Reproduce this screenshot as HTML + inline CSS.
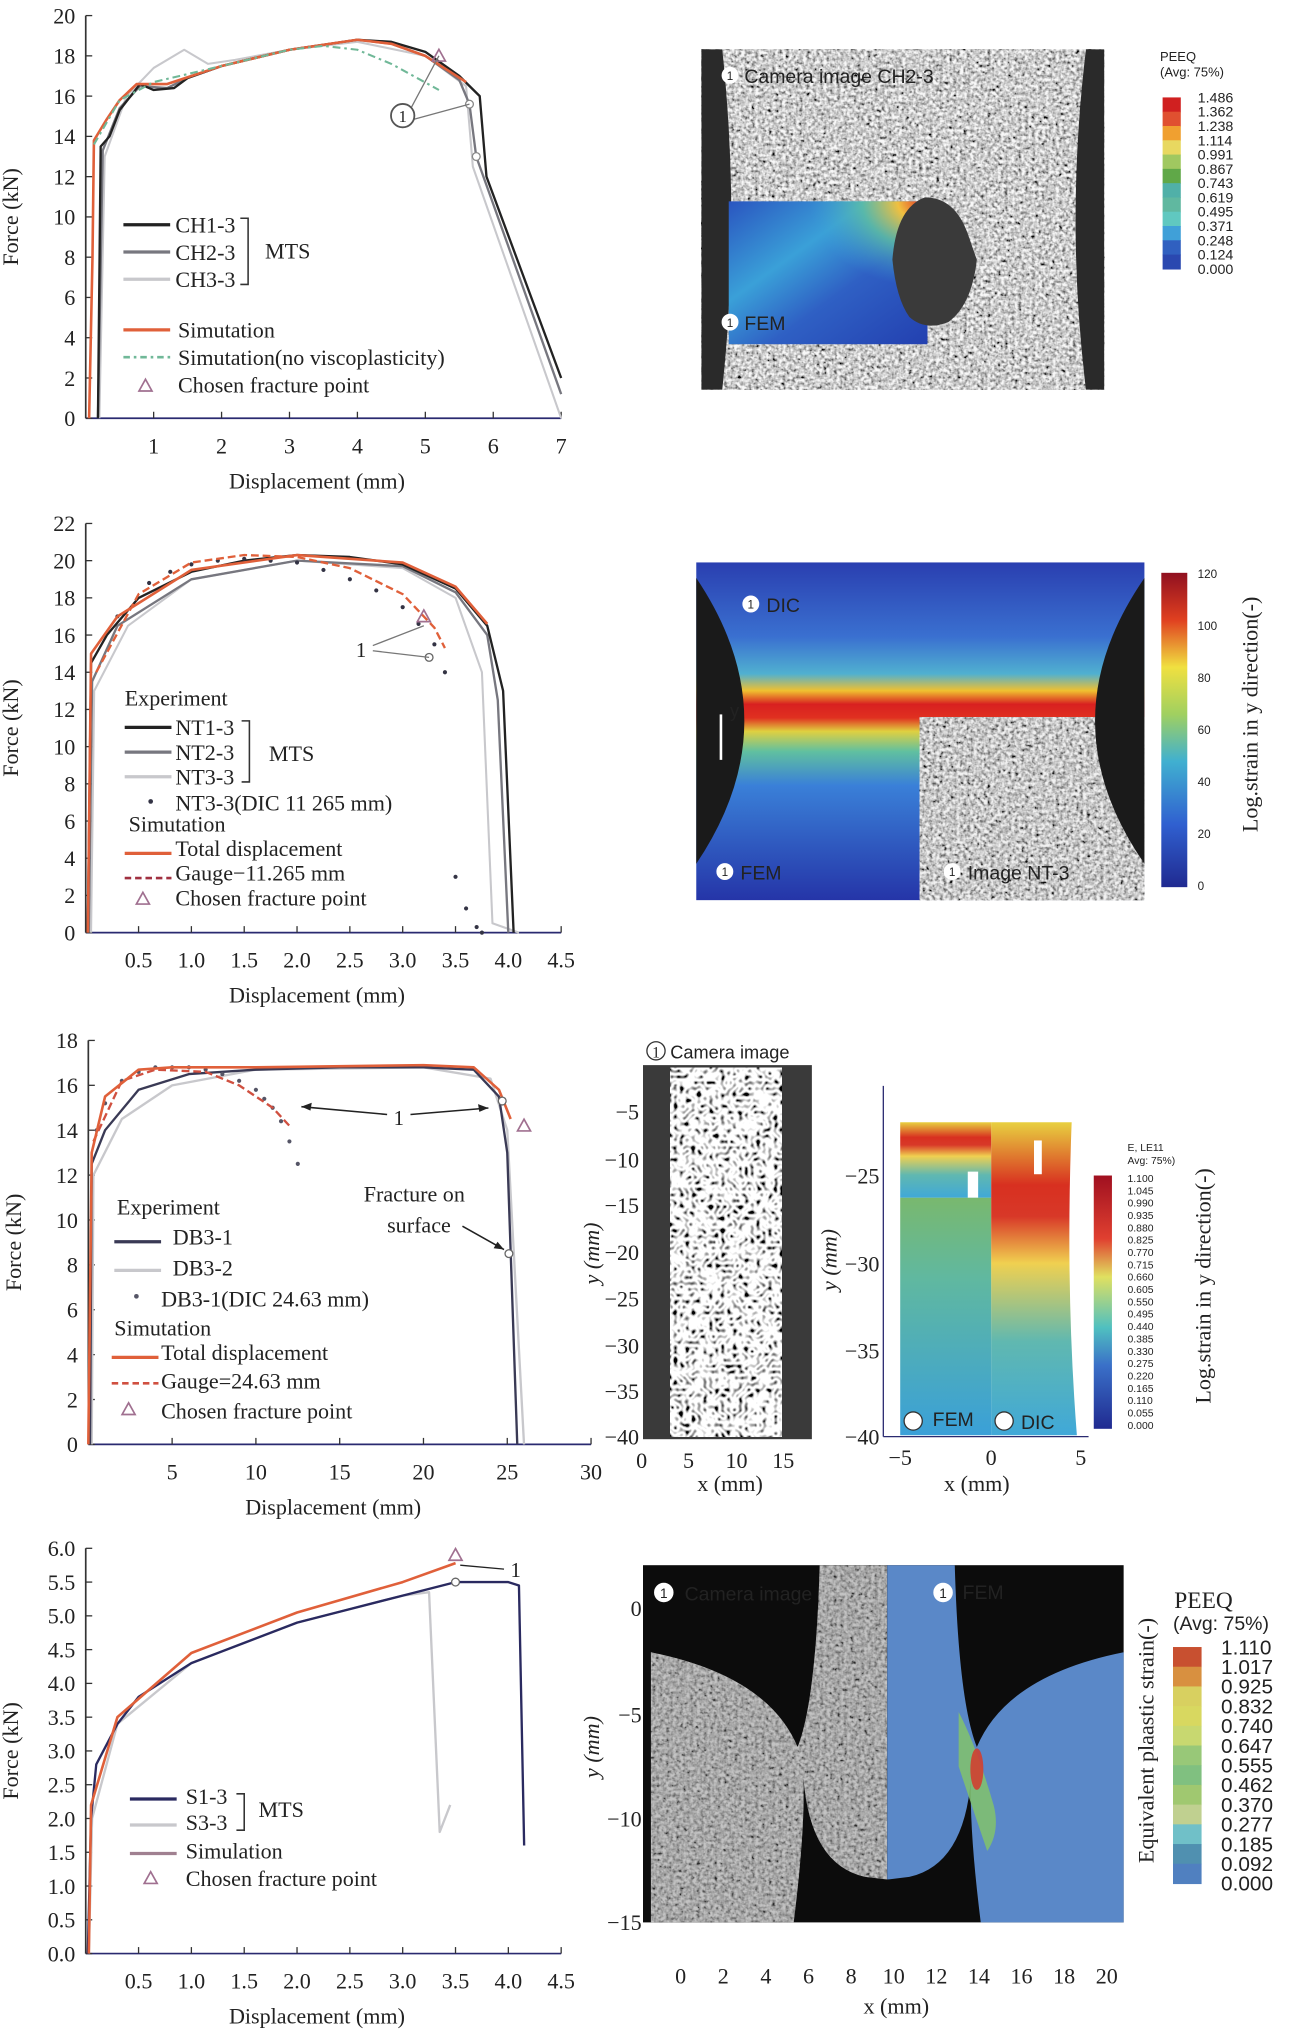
<!DOCTYPE html>
<html><head><meta charset="utf-8">
<style>
html,body{margin:0;padding:0;background:#fff;}
svg{display:block;}
text{font-family:"Liberation Serif",serif;fill:#222;}
.sans{font-family:"Liberation Sans",sans-serif;}
</style></head>
<body>
<svg id="fig" width="1299" height="2038" viewBox="0 0 1000 1569" preserveAspectRatio="none" xmlns="http://www.w3.org/2000/svg">
<defs id="defs">
<filter id="speck" x="0" y="0" width="100%" height="100%">
<feTurbulence type="fractalNoise" baseFrequency="0.38" numOctaves="2" seed="3"/>
<feColorMatrix type="matrix" values="0.33 0.33 0.33 0 0  0.33 0.33 0.33 0 0  0.33 0.33 0.33 0 0  0 0 0 0 1"/>
<feComponentTransfer><feFuncR type="linear" slope="3.2" intercept="-0.95"/><feFuncG type="linear" slope="3.2" intercept="-0.95"/><feFuncB type="linear" slope="3.2" intercept="-0.95"/></feComponentTransfer>
</filter>
<filter id="worm" x="0" y="0" width="100%" height="100%">
<feTurbulence type="turbulence" baseFrequency="0.22" numOctaves="1" seed="7"/>
<feColorMatrix type="matrix" values="0 0 0 -3 1.4  0 0 0 -3 1.4  0 0 0 -3 1.4  0 0 0 0 1"/>
</filter>
<linearGradient id="fem1" x1="0" y1="0" x2="1" y2="1">
<stop offset="0" stop-color="#2a55c0"/><stop offset="0.35" stop-color="#3aa0d8"/><stop offset="0.6" stop-color="#2f60c4"/><stop offset="1" stop-color="#2340b0"/></linearGradient>
<radialGradient id="hot1" cx="1" cy="0" r="0.6"><stop offset="0" stop-color="#e02020"/><stop offset="0.25" stop-color="#f0c040"/><stop offset="0.55" stop-color="#60c0a0" stop-opacity="0.8"/><stop offset="1" stop-color="#3aa0d8" stop-opacity="0"/></radialGradient>
<linearGradient id="band2" x1="0" y1="0" x2="0" y2="1">
<stop offset="0" stop-color="#2a3fb0"/><stop offset="0.22" stop-color="#3a70d0"/><stop offset="0.33" stop-color="#50b0d0"/><stop offset="0.38" stop-color="#f0c030"/><stop offset="0.42" stop-color="#d82020"/><stop offset="0.46" stop-color="#e03020"/><stop offset="0.5" stop-color="#e0d040"/><stop offset="0.56" stop-color="#60c0a0"/><stop offset="0.66" stop-color="#3a80d8"/><stop offset="1" stop-color="#2535a8"/></linearGradient>
<linearGradient id="cb2" x1="0" y1="1" x2="0" y2="0">
<stop offset="0" stop-color="#202a90"/><stop offset="0.2" stop-color="#3060d0"/><stop offset="0.4" stop-color="#40b0d0"/><stop offset="0.55" stop-color="#a0d060"/><stop offset="0.7" stop-color="#f0e040"/><stop offset="0.85" stop-color="#e04020"/><stop offset="1" stop-color="#901020"/></linearGradient>
<linearGradient id="fem3" x1="0" y1="0" x2="0" y2="1">
<stop offset="0" stop-color="#e8d040"/><stop offset="0.2" stop-color="#d83020"/><stop offset="0.3" stop-color="#d83828"/><stop offset="0.45" stop-color="#f0d050"/><stop offset="0.7" stop-color="#60b8b0"/><stop offset="1" stop-color="#40a8d8"/></linearGradient>
<linearGradient id="fem3l" x1="0" y1="0" x2="0" y2="1">
<stop offset="0" stop-color="#90b840"/><stop offset="0.5" stop-color="#60b8a0"/><stop offset="1" stop-color="#3aa0d8"/></linearGradient>
<linearGradient id="cb3" x1="0" y1="1" x2="0" y2="0">
<stop offset="0" stop-color="#202a90"/><stop offset="0.25" stop-color="#3a70c8"/><stop offset="0.4" stop-color="#50c0c0"/><stop offset="0.6" stop-color="#e0e060"/><stop offset="0.75" stop-color="#e04030"/><stop offset="1" stop-color="#a01020"/></linearGradient>
<clipPath id="camclip"><path d="M683,1205H631Q628,1310 614,1345Q591,1290 501,1272V1480H611Q621,1400 618,1360Q621,1435 666,1445L683,1447Z"/></clipPath>
</defs>
<g id="root"></g>
</svg>
<script>
const NS='http://www.w3.org/2000/svg';
const root=document.getElementById('root');
function mk(tag,name,attrs,parent){
  const el=document.createElementNS(NS,tag);
  
  
  for(const k in attrs) el.setAttribute(k,attrs[k]);
  (parent||root).appendChild(el);
  return el;
}
function txt(name,s,x,y,size,extra,parent){
  const t=mk('text',name,Object.assign({x:x,y:y,'font-size':size},extra||{}),parent);
  t.textContent=s; return t;
}
function badge(x,y,r,parent,dark){
  mk('circle','marker-1',{cx:x,cy:y,r:r,fill:'#fff',stroke:dark?'#333':'#fff'},parent);
  txt('marker-1-text','1',x,y+r*0.6,r*1.5,{'text-anchor':'middle',class:'sans',fill:'#222'},parent);
}

/* ---------- DATA: chart 1 (CH) ---------- */
const ch1Ticks=[1,2,3,4,5,6,7];
const ch1YTicks=[0,2,4,6,8,10,12,14,16,18,20];
const ch1_CH1=[[0.18,0],[0.22,13.5],[0.35,14],[0.5,15.3],[0.8,16.6],[1,16.3],[1.3,16.4],[1.5,16.9],[2,17.5],[3,18.3],[4,18.8],[4.5,18.7],[5,18.2],[5.5,17],[5.8,16],[5.9,12],[7,2]];
const ch1_CH2=[[0.18,0],[0.25,13.3],[0.5,15.4],[0.8,16.5],[1.2,16.4],[1.5,16.9],[2,17.5],[3,18.3],[4,18.8],[4.5,18.6],[5,18],[5.5,16.8],[5.65,15.6],[5.75,13],[7,1.2]];
const ch1_CH3=[[0.2,0],[0.28,13],[0.6,16],[1,17.4],[1.45,18.3],[1.8,17.6],[2.2,17.8],[3,18.3],[4,18.7],[5,18],[5.6,16.5],[5.7,12.5],[7,0]];
const ch1_Sim=[[0.05,0],[0.1,8],[0.12,13.8],[0.3,14.8],[0.5,15.8],[0.75,16.6],[1.2,16.6],[2,17.5],[3,18.3],[4,18.8],[4.5,18.6],[5,18],[5.6,16.7]];
const ch1_NoVisc=[[0.12,13.6],[0.5,15.8],[1,16.7],[2,17.5],[3,18.3],[3.5,18.5],[4,18.3],[4.5,17.6],[5.2,16.3]];
const ch1_Frac=[[5.2,18.0]];

/* ---------- DATA: chart 2 (NT) ---------- */
const ch2Ticks=[0.5,1.0,1.5,2.0,2.5,3.0,3.5,4.0,4.5];
const ch2YTicks=[0,2,4,6,8,10,12,14,16,18,20,22];
const ch2_NT1=[[0.02,0],[0.05,14.5],[0.2,16],[0.5,18],[1,19.4],[1.5,20],[2,20.3],[2.5,20.2],[3,19.8],[3.5,18.5],[3.8,16.5],[3.95,13],[4.05,0]];
const ch2_NT2=[[0.03,0],[0.06,13.5],[0.3,16.5],[1,19],[2,20],[3,19.7],[3.5,18.3],[3.8,16],[3.9,12.5],[4,0]];
const ch2_NT3=[[0.05,0],[0.08,13],[0.4,16.5],[1,19],[2,20],[3,19.6],[3.5,18],[3.75,14],[3.85,0.5],[4.1,0]];
const ch2_DIC=[[0.3,17],[0.6,18.8],[0.8,19.4],[1,19.8],[1.25,20],[1.5,20.1],[1.75,20],[2,19.9],[2.25,19.5],[2.5,19],[2.75,18.4],[3,17.5],[3.15,16.6],[3.3,15.5],[3.4,14],[3.5,3],[3.6,1.3],[3.7,0.3],[3.75,0]];
const ch2_Total=[[0.02,0],[0.05,15],[0.3,17],[1,19.5],[2,20.3],[3,19.9],[3.5,18.6],[3.8,16.6]];
const ch2_Gauge=[[0.1,14],[0.5,18.2],[1,19.9],[1.5,20.3],[2,20.2],[2.5,19.6],[3,18.2],[3.3,16.4],[3.4,15.3]];
const ch2_Frac=[[3.2,17]];

/* ---------- DATA: chart 3 (DB) ---------- */
const ch3Ticks=[5,10,15,20,25,30];
const ch3YTicks=[0,2,4,6,8,10,12,14,16,18];
const ch3_DB1=[[0.1,0],[0.2,12.5],[1,14],[3,15.8],[6,16.5],[10,16.7],[15,16.8],[20,16.8],[23,16.7],[24.5,15.5],[25,13],[25.6,0]];
const ch3_DB2=[[0.2,0],[0.3,12],[2,14.5],[5,16],[10,16.7],[20,16.8],[24,16.3],[25,14],[26,0]];
const ch3_Total=[[0,0],[0.2,13],[1,15.5],[3,16.7],[5,16.8],[10,16.8],[20,16.9],[23,16.8],[24.5,15.8],[25.2,14.5]];
const ch3_DIC=[[0.5,14],[1,15.2],[2,16.2],[3,16.6],[4,16.8],[5,16.8],[6,16.8],[7,16.7],[8,16.5],[9,16.2],[10,15.8],[10.5,15.4],[11,15],[11.5,14.4],[12,13.5],[12.5,12.5]];
const ch3_Gauge=[[0.3,13.5],[2,16.2],[4,16.7],[7,16.6],[9,16],[11,15],[12,14.2]];
const ch3_Frac=[[26,14.2]];

/* ---------- DATA: chart 4 (S) ---------- */
const ch4Ticks=[0.5,1.0,1.5,2.0,2.5,3.0,3.5,4.0,4.5];
const ch4YTicks=[0,0.5,1.0,1.5,2.0,2.5,3.0,3.5,4.0,4.5,5.0,5.5,6.0];
const ch4_S1=[[0.02,0],[0.05,2],[0.1,2.8],[0.3,3.4],[0.5,3.8],[1,4.3],[1.5,4.6],[2,4.9],[2.5,5.1],[3,5.3],[3.5,5.5],[4,5.5],[4.1,5.45],[4.15,1.6]];
const ch4_S3=[[0.03,0],[0.06,2],[0.3,3.4],[1,4.3],[2,4.9],[3,5.3],[3.25,5.35],[3.35,1.8],[3.45,2.2]];
const ch4_Sim=[[0.03,0],[0.05,2.2],[0.3,3.5],[1,4.45],[2,5.05],[3,5.5],[3.5,5.78]];
const ch4_Frac=[[3.5,5.9]];

function axis(c){
  const g=mk('g',c.name,{});
  const sx=v=>c.x0+(v-c.xmin)/(c.xmax-c.xmin)*(c.x1-c.x0);
  const sy=v=>c.y0-(v-c.ymin)/(c.ymax-c.ymin)*(c.y0-c.y1);
  mk('line','y-axis',{x1:c.x0,y1:c.y0,x2:c.x0,y2:c.y1,stroke:'#333','stroke-width':1.3},g);
  mk('line','x-axis',{x1:c.x0,y1:c.y0,x2:c.x1,y2:c.y0,stroke:'#2a2a70','stroke-width':1.3},g);
  c.yt.forEach(v=>{
    mk('line','y-tick',{x1:c.x0,y1:sy(v),x2:c.x0+5,y2:sy(v),stroke:'#333'},g);
    txt('y-tick-label',c.yfmt?v.toFixed(1):String(v),c.x0-8,sy(v)+6,17,{'text-anchor':'end'},g);
  });
  c.xt.forEach(v=>{
    mk('line','x-tick',{x1:sx(v),y1:c.y0,x2:sx(v),y2:c.y0-5,stroke:'#333'},g);
    txt('x-tick-label',c.xfmt?v.toFixed(1):String(v),sx(v),c.y0+27,17,{'text-anchor':'middle'},g);
  });
  txt('x-axis-title','Displacement (mm)',(c.x0+c.x1)/2-5,c.y0+54,17,{'text-anchor':'middle'},g);
  txt('y-axis-title','Force (kN)',0,0,17,{'text-anchor':'middle',transform:`translate(${c.x0-52},${(c.y0+c.y1)/2}) rotate(-90)`},g);
  c.g=g;c.sx=sx;c.sy=sy;return c;
}
function line(c,name,pts,col,w,dash){
  const d=pts.map((p,i)=>(i?'L':'M')+c.sx(p[0]).toFixed(1)+','+c.sy(p[1]).toFixed(1)).join('');
  const a={d:d,fill:'none',stroke:col,'stroke-width':w,'stroke-linejoin':'round'};
  if(dash)a['stroke-dasharray']=dash;
  mk('path',name,a,c.g);
}
function dots(c,name,pts,col){
  pts.forEach(p=>mk('circle',name,{cx:c.sx(p[0]),cy:c.sy(p[1]),r:1.6,fill:col},c.g));
}
function tri(c,name,pts){
  pts.forEach(p=>{const x=c.sx(p[0]),y=c.sy(p[1]);
    mk('path',name,{d:`M${x},${y-5}L${x+5},${y+4}L${x-5},${y+4}Z`,fill:'none',stroke:'#a07090','stroke-width':1.3},c.g);});
}
function legLine(g,name,x,y,col,w,dash){
  const a={x1:x,y1:y,x2:x+36,y2:y,stroke:col,'stroke-width':w};
  if(dash)a['stroke-dasharray']=dash;
  mk('line',name,a,g);
}
function legTri(g,x,y){mk('path','legend-triangle',{d:`M${x},${y-5}L${x+5},${y+4}L${x-5},${y+4}Z`,fill:'none',stroke:'#a07090','stroke-width':1.3},g);}
function bracket(g,x,y1,y2){mk('path','legend-bracket',{d:`M${x-6},${y1}H${x}V${y2}H${x-6}`,fill:'none',stroke:'#333','stroke-width':1.2},g);}

/* ===== Chart 1 ===== */
let c1=axis({name:'chart-ch',x0:66,x1:432,xmin:0,xmax:7,y0:322,y1:12,ymin:0,ymax:20,xt:ch1Ticks,yt:ch1YTicks});
line(c1,'series-ch3-3',ch1_CH3,'#c8c8cc',1.6);
line(c1,'series-ch2-3',ch1_CH2,'#77777f',1.8);
line(c1,'series-ch1-3',ch1_CH1,'#222',1.8);
line(c1,'series-simulation',ch1_Sim,'#e0603a',2);
line(c1,'series-no-viscoplasticity',ch1_NoVisc,'#70b898',1.6,'6 3 2 3');
tri(c1,'fracture-point',ch1_Frac);
mk('circle','marker',{cx:c1.sx(5.65),cy:c1.sy(15.6),r:3,fill:'#fff',stroke:'#888'},c1.g);
mk('circle','marker',{cx:c1.sx(5.75),cy:c1.sy(13),r:3,fill:'#fff',stroke:'#888'},c1.g);
mk('path','annotation-lines',{d:`M316,84L${c1.sx(5.2)},${c1.sy(18)}M318,92L${c1.sx(5.65)},${c1.sy(15.6)}`,stroke:'#777',fill:'none'},c1.g);
mk('circle','annotation-1',{cx:310,cy:89,r:9,fill:'#fff',stroke:'#555','stroke-width':1.4},c1.g);
txt('annotation-1-label','1',310,94,13,{'text-anchor':'middle'},c1.g);
let L=c1.g;
legLine(L,'legend-ch1-3',95,173,'#222',2.5);txt('legend-text','CH1-3',135,179,17,{},L);
legLine(L,'legend-ch2-3',95,194,'#77777f',2.5);txt('legend-text','CH2-3',135,200,17,{},L);
legLine(L,'legend-ch3-3',95,215,'#c8c8cc',2.5);txt('legend-text','CH3-3',135,221,17,{},L);
bracket(L,191,168,219);txt('legend-text','MTS',204,199,17,{},L);
legLine(L,'legend-simulation',95,254,'#e0603a',2.5);txt('legend-text','Simutation',137,260,17,{},L);
legLine(L,'legend-no-visc',95,275,'#70b898',2,'5 3 2 3');txt('legend-text','Simutation(no viscoplasticity)',137,281,17,{},L);
legTri(L,112,297);txt('legend-text','Chosen fracture point',137,302,17,{},L);

/* ===== Chart 2 ===== */
let c2=axis({name:'chart-nt',x0:66,x1:432,xmin:0,xmax:4.5,y0:718,y1:403,ymin:0,ymax:22,xt:ch2Ticks,yt:ch2YTicks,xfmt:1});
line(c2,'series-nt3-3',ch2_NT3,'#c8c8cc',1.6);
line(c2,'series-nt2-3',ch2_NT2,'#77777f',1.8);
line(c2,'series-nt1-3',ch2_NT1,'#222',1.8);
dots(c2,'series-nt3-3-dic',ch2_DIC,'#334');
line(c2,'series-total-displacement',ch2_Total,'#e0603a',2);
line(c2,'series-gauge',ch2_Gauge,'#e0603a',1.8,'6 3');
tri(c2,'fracture-point',ch2_Frac);
mk('circle','marker',{cx:c2.sx(3.25),cy:c2.sy(14.8),r:3,fill:'#fff',stroke:'#666'},c2.g);
mk('path','annotation-lines',{d:`M287,497L${c2.sx(3.2)},${c2.sy(16.5)}M287,501L${c2.sx(3.25)},${c2.sy(14.8)}`,stroke:'#777',fill:'none'},c2.g);
txt('annotation-1-label','1',278,506,16,{'text-anchor':'middle'},c2.g);
L=c2.g;
txt('legend-text','Experiment',96,543,17,{},L);
legLine(L,'legend-nt1-3',96,560,'#222',2.5);txt('legend-text','NT1-3',135,566,17,{},L);
legLine(L,'legend-nt2-3',96,579,'#77777f',2.5);txt('legend-text','NT2-3',135,585,17,{},L);
legLine(L,'legend-nt3-3',96,598,'#c8c8cc',2.5);txt('legend-text','NT3-3',135,604,17,{},L);
bracket(L,192,555,602);txt('legend-text','MTS',207,586,17,{},L);
mk('circle','legend-dic-dot',{cx:116,cy:617,r:1.8,fill:'#334'},L);txt('legend-text','NT3-3(DIC 11 265 mm)',135,624,17,{},L);
txt('legend-text','Simutation',99,640,17,{},L);
legLine(L,'legend-total',96,657,'#e0603a',2.5);txt('legend-text','Total displacement',135,659,17,{},L);
legLine(L,'legend-gauge',96,676,'#a03040',2,'5 3');txt('legend-text','Gauge−11.265 mm',135,678,17,{},L);
legTri(L,110,692);txt('legend-text','Chosen fracture point',135,697,17,{},L);

/* ===== Chart 3 ===== */
let c3=axis({name:'chart-db',x0:68,x1:455,xmin:0,xmax:30,y0:1112,y1:801,ymin:0,ymax:18,xt:ch3Ticks,yt:ch3YTicks});
line(c3,'series-db3-2',ch3_DB2,'#c8c8cc',1.8);
line(c3,'series-db3-1',ch3_DB1,'#3a3a55',1.8);
dots(c3,'series-db3-1-dic',ch3_DIC,'#556');
line(c3,'series-gauge',ch3_Gauge,'#d05040',1.8,'6 3');
line(c3,'series-total-displacement',ch3_Total,'#e0603a',2);
tri(c3,'fracture-point',ch3_Frac);
mk('circle','marker',{cx:c3.sx(24.7),cy:c3.sy(15.3),r:3,fill:'#fff',stroke:'#666'},c3.g);
mk('circle','marker',{cx:c3.sx(25.1),cy:c3.sy(8.5),r:3,fill:'#fff',stroke:'#666'},c3.g);
mk('path','annotation-arrows',{d:`M298,858L232,852M316,858L376,853M356,944L388,962`,stroke:'#222',fill:'none','stroke-width':1.2},c3.g);
mk('path','arrow-heads',{d:'M232,852l8,-3l-1,6zM376,853l-8,-3l1,6zM388,962l-8,-1l3,-5z',fill:'#222'},c3.g);
txt('annotation-1-label','1',307,866,16,{'text-anchor':'middle'},c3.g);
txt('annotation-text','Fracture on',280,925,17,{},c3.g);
txt('annotation-text','surface',298,949,17,{},c3.g);
L=c3.g;
txt('legend-text','Experiment',90,935,17,{},L);
legLine(L,'legend-db3-1',88,956,'#3a3a55',2.5);txt('legend-text','DB3-1',133,958,17,{},L);
legLine(L,'legend-db3-2',88,978,'#c8c8cc',2.5);txt('legend-text','DB3-2',133,982,17,{},L);
mk('circle','legend-dic-dot',{cx:105,cy:998,r:1.8,fill:'#556'},L);txt('legend-text','DB3-1(DIC 24.63 mm)',124,1006,17,{},L);
txt('legend-text','Simutation',88,1028,17,{},L);
legLine(L,'legend-total',86,1045,'#e0603a',2.5);txt('legend-text','Total displacement',124,1047,17,{},L);
legLine(L,'legend-gauge',86,1065,'#d05040',2,'5 3');txt('legend-text','Gauge=24.63 mm',124,1069,17,{},L);
legTri(L,99,1085);txt('legend-text','Chosen fracture point',124,1092,17,{},L);

/* ===== Chart 4 ===== */
let c4=axis({name:'chart-s',x0:66,x1:432,xmin:0,xmax:4.5,y0:1504,y1:1192,ymin:0,ymax:6,xt:ch4Ticks,yt:ch4YTicks,xfmt:1,yfmt:1});
line(c4,'series-s3-3',ch4_S3,'#c8c8cc',1.8);
line(c4,'series-s1-3',ch4_S1,'#2a2a60',1.8);
line(c4,'series-simulation',ch4_Sim,'#e0603a',2);
tri(c4,'fracture-point',ch4_Frac);
mk('circle','marker',{cx:c4.sx(3.5),cy:c4.sy(5.5),r:3,fill:'#fff',stroke:'#666'},c4.g);
mk('path','annotation-arrow',{d:`M388,1208L${c4.sx(3.52)+2},${c4.sy(5.75)}`,stroke:'#222',fill:'none'},c4.g);
txt('annotation-1-label','1',397,1214,16,{'text-anchor':'middle'},c4.g);
L=c4.g;
legLine(L,'legend-s1-3',100,1385,'#2a2a60',2.5);txt('legend-text','S1-3',143,1389,17,{},L);
legLine(L,'legend-s3-3',100,1405,'#c8c8cc',2.5);txt('legend-text','S3-3',143,1409,17,{},L);
bracket(L,188,1381,1409);txt('legend-text','MTS',199,1399,17,{},L);
legLine(L,'legend-simulation',100,1427,'#a08090',2.5);txt('legend-text','Simulation',143,1431,17,{},L);
legTri(L,116,1446);txt('legend-text','Chosen fracture point',143,1452,17,{},L);

/* ===== Colorbar helper ===== */
function colorbar(name,x,y,w,h,cols,labels,lx,size,lcol){
  const g=mk('g',name,{});
  const n=cols.length;
  cols.forEach((c,i)=>mk('rect','colorbar-segment',{x:x,y:y+h*i/n,width:w,height:h/n+0.5,fill:c},g));
  labels.forEach((s,i)=>txt('colorbar-label',s,lx,y+h*i/(labels.length-1)+size*0.35,size,{class:'sans',fill:lcol||'#999'},g));
  return g;
}

/* ===== Image 1 ===== */
let g=mk('g','image-camera-ch2-3',{});
mk('rect','speckle-bg',{x:540,y:38,width:310,height:262,fill:'#777'},g);
mk('rect','speckle',{x:540,y:38,width:310,height:262,filter:'url(#speck)',opacity:0.95},g);
mk('path','specimen-edge-left',{d:'M540,38H556Q570,170 556,300H540Z',fill:'#2a2a2a'},g);
mk('path','specimen-edge-right',{d:'M850,38H836Q820,170 836,300H850Z',fill:'#2a2a2a'},g);
mk('rect','fem-overlay',{x:561,y:155,width:153,height:110,fill:'url(#fem1)'},g);
mk('rect','fem-hot',{x:561,y:155,width:153,height:110,fill:'url(#hot1)'},g);
mk('path','hole',{d:'M712,152Q735,152 745,180L752,200Q748,235 730,248Q712,255 700,244Q690,230 687,200Q690,160 712,152Z',fill:'#3a3a3a'},g);
badge(562,58,6,g);
txt('image-label','Camera image CH2-3',573,64,15,{class:'sans',fill:'#eee'},g);
badge(562,248,6,g);
txt('image-label','FEM',573,254,15,{class:'sans',fill:'#eee'},g);
txt('colorbar-title','PEEQ',893,47,10,{class:'sans',fill:'#999'});
txt('colorbar-title','(Avg: 75%)',893,59,10,{class:'sans',fill:'#999'});
colorbar('colorbar-1',895,75,14,132,['#d02020','#e05030','#f0a030','#e8d860','#a0c860','#60a848','#50b0a8','#60b8a0','#60c8c0','#40a0d8','#3060c0','#2a48b0'],['1.486','1.362','1.238','1.114','0.991','0.867','0.743','0.619','0.495','0.371','0.248','0.124','0.000'],922,11);

/* ===== Image 2 ===== */
g=mk('g','image-nt3',{});
mk('rect','dic-field',{x:536,y:433,width:345,height:260,fill:'url(#band2)'},g);
mk('rect','camera-part-bg',{x:708,y:552,width:173,height:141,fill:'#777'},g);
mk('rect','camera-part',{x:708,y:552,width:173,height:141,filter:'url(#speck)',opacity:0.9},g);
mk('path','notch-left',{d:'M536,445Q610,555 536,665Z',fill:'#1a1a1a'},g);
mk('path','notch-right',{d:'M881,445Q805,555 881,665Z',fill:'#1a1a1a'},g);
mk('line','y-arrow',{x1:555,y1:585,x2:555,y2:550,stroke:'#fff','stroke-width':2},g);
txt('arrow-label','y',562,552,14,{class:'sans',fill:'#fff'},g);
badge(578,465,6,g);txt('image-label','DIC',590,471,15,{class:'sans',fill:'#fff'},g);
badge(558,671,6,g);txt('image-label','FEM',570,677,15,{class:'sans',fill:'#fff'},g);
badge(733,671,6,g);txt('image-label','Image NT-3',745,677,15,{class:'sans',fill:'#fff'},g);
mk('rect','colorbar-2',{x:894,y:441,width:20,height:242,fill:'url(#cb2)'});
['120','100','80','60','40','20','0'].forEach((s,i)=>txt('colorbar-label',s,922,445+i*40,9,{class:'sans',fill:'#999'}));
txt('colorbar-title','Log.strain in y direction(-)',0,0,17,{'text-anchor':'middle',transform:'translate(968,550) rotate(-90)'});

/* ===== Image 3a ===== */
g=mk('g','image-db-camera',{});
mk('rect','bg',{x:495,y:820,width:130,height:288,fill:'#3a3a3a'},g);
mk('rect','worm-speckle',{x:516,y:822,width:86,height:284,filter:'url(#worm)'},g);
mk('circle','marker-1',{cx:505,cy:809,r:7,fill:'#fff',stroke:'#333'},g);txt('marker-1-text','1',505,814,12,{'text-anchor':'middle'},g);
txt('image-label','Camera image',516,815,14,{class:'sans',fill:'#333'},g);
[[-5,856],[-10,893],[-15,928],[-20,964],[-25,1000],[-30,1036],[-35,1071],[-40,1106]].forEach(p=>txt('y-tick-label',String(p[0]).replace('-','−'),492,p[1]+6,17,{'text-anchor':'end'},g));
[[0,494],[5,530],[10,567],[15,603]].forEach(p=>txt('x-tick-label',String(p[0]),p[1],1130,17,{'text-anchor':'middle'},g));
txt('y-axis-title','y (mm)',0,0,17,{'text-anchor':'middle','font-style':'italic',transform:'translate(461,965) rotate(-90)'},g);
txt('x-axis-title','x (mm)',562,1148,17,{'text-anchor':'middle'},g);

/* ===== Image 3b ===== */
g=mk('g','image-db-fem-dic',{});
mk('line','y-axis',{x1:680,y1:836,x2:680,y2:1106,stroke:'#2a2a70'},g);
mk('line','x-axis',{x1:680,y1:1106,x2:838,y2:1106,stroke:'#2a2a70'},g);
mk('path','dic-field',{d:'M693,864H825Q820,990 829,1105H763V864Z',fill:'url(#fem3)'},g);
mk('path','fem-field',{d:'M693,864V1105H763V922H693Z',fill:'url(#fem3l)'},g);
mk('path','fem-top',{d:'M693,864H763V922H693Z',fill:'url(#fem3)'},g);
mk('rect','gap',{x:745,y:902,width:8,height:20,fill:'#fff'},g);
mk('rect','gap',{x:796,y:878,width:6,height:26,fill:'#fff'},g);
mk('circle','marker-1',{cx:703,cy:1094,r:7,fill:'#fff',stroke:'#333'},g);txt('image-label','FEM',718,1098,15,{class:'sans',fill:'#fff'},g);
mk('circle','marker-1',{cx:773,cy:1094,r:7,fill:'#fff',stroke:'#333'},g);txt('image-label','DIC',786,1100,15,{class:'sans',fill:'#fff'},g);
[[-25,905],[-30,973],[-35,1040],[-40,1106]].forEach(p=>txt('y-tick-label',String(p[0]).replace('-','−'),677,p[1]+6,17,{'text-anchor':'end'},g));
[[-5,693],[0,763],[5,832]].forEach(p=>txt('x-tick-label',String(p[0]).replace('-','−'),p[1],1128,17,{'text-anchor':'middle'},g));
txt('y-axis-title','y (mm)',0,0,17,{'text-anchor':'middle','font-style':'italic',transform:'translate(644,970) rotate(-90)'},g);
txt('x-axis-title','x (mm)',752,1148,17,{'text-anchor':'middle'},g);
txt('colorbar-title','E, LE11',868,886,8,{class:'sans',fill:'#999'});
txt('colorbar-title','Avg: 75%)',868,896,8,{class:'sans',fill:'#999'});
mk('rect','colorbar-3',{x:842,y:905,width:14,height:195,fill:'url(#cb3)'});
['1.100','1.045','0.990','0.935','0.880','0.825','0.770','0.715','0.660','0.605','0.550','0.495','0.440','0.385','0.330','0.275','0.220','0.165','0.110','0.055','0.000'].forEach((s,i)=>txt('colorbar-label',s,868,910+i*9.5,8,{class:'sans',fill:'#aaa'}));
txt('colorbar-title','Log.strain in y direction(-)',0,0,17,{'text-anchor':'middle',transform:'translate(932,990) rotate(-90)'});

/* ===== Image 4 ===== */
g=mk('g','image-s',{});
mk('rect','bg',{x:495,y:1205,width:370,height:275,fill:'#0c0c0c'},g);
const cam=mk('g','camera-specimen',{'clip-path':'url(#camclip)'},g);
mk('rect','camera-specimen-bg',{x:495,y:1205,width:190,height:275,fill:'#6a6a6a'},cam);
mk('rect','camera-speckle',{x:495,y:1205,width:190,height:275,filter:'url(#speck)',opacity:0.6},cam);
mk('path','fem-specimen',{d:'M683,1205H735Q738,1310 752,1345Q775,1290 865,1272V1480H755Q745,1400 748,1360Q745,1435 700,1445L683,1447Z',fill:'#5a88c8'},g);
mk('path','fem-hot-band',{d:'M738,1318Q752,1345 765,1390Q770,1410 760,1425Q748,1390 738,1360Z',fill:'#80c070',opacity:0.9},g);
mk('ellipse','fem-hot-core',{cx:752,cy:1362,rx:5,ry:16,fill:'#d04030',opacity:0.9},g);
badge(511,1226,7,g);txt('image-label','Camera image',527,1232,15,{class:'sans',fill:'#ddd'},g);
badge(726,1226,7,g);txt('image-label','FEM',741,1231,15,{class:'sans',fill:'#ddd'},g);
[[0,1238],[-5,1320],[-10,1400],[-15,1480]].forEach(p=>txt('y-tick-label',String(p[0]).replace('-','−'),494,p[1]+6,17,{'text-anchor':'end'},g));
[0,2,4,6,8,10,12,14,16,18,20].forEach((v,i)=>txt('x-tick-label',String(v),524+i*32.8,1527,17,{'text-anchor':'middle'},g));
txt('y-axis-title','y (mm)',0,0,17,{'text-anchor':'middle','font-style':'italic',transform:'translate(461,1345) rotate(-90)'},g);
txt('x-axis-title','x (mm)',690,1528+22,17,{'text-anchor':'middle'},g);
txt('colorbar-title','Equivalent plaastic strain(-)',0,0,17,{'text-anchor':'middle',transform:'translate(888,1340) rotate(-90)'});
txt('colorbar-title','PEEQ',904,1238,18,{fill:'#223'});
txt('colorbar-title','(Avg: 75%)',903,1255,15,{class:'sans',fill:'#777'});
colorbar('colorbar-4',903,1268,22,182,['#c85030','#d89040','#d8d060','#d8d860','#c8d870','#98c878','#80c080','#a0c870','#c0d090','#70c0c8','#5090b0','#5080c0'],['1.110','1.017','0.925','0.832','0.740','0.647','0.555','0.462','0.370','0.277','0.185','0.092','0.000'],940,16,'#666');
</script>
</body></html>
